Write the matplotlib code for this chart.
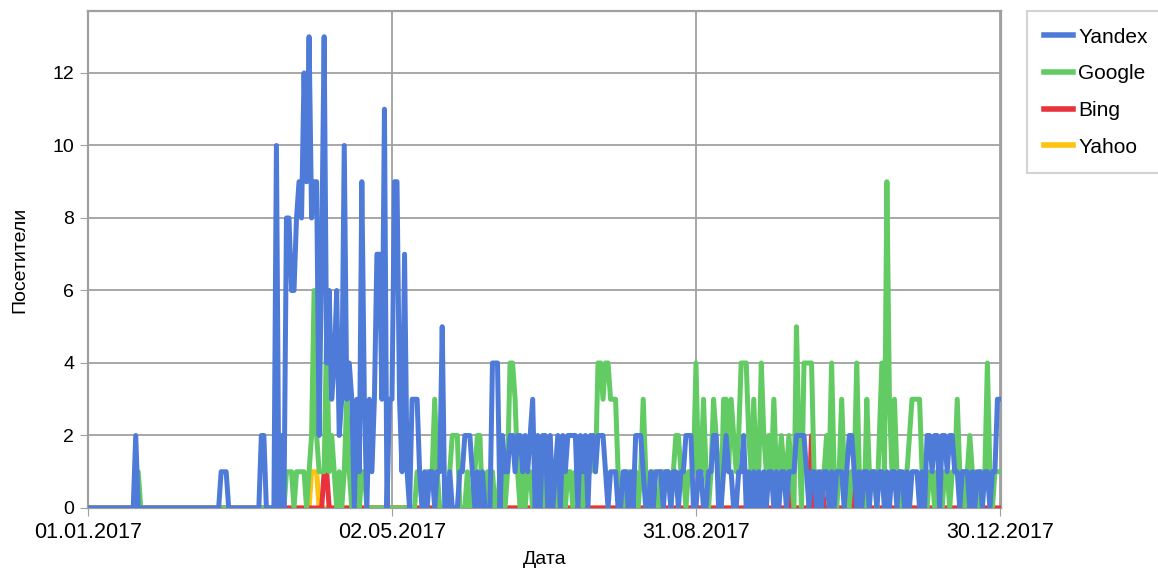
import pandas as pd
import matplotlib.pyplot as plt

# daily visitors, 01.01.2017 .. 31.12.2017 (one value per day, 10 per row)
dates = pd.date_range("2017-01-01", "2017-12-31", freq="D")

yandex = [
    0, 0, 0, 0, 0, 0, 0, 0, 0, 0,
    0, 0, 0, 0, 0, 0, 0, 0, 0, 2,
    0, 0, 0, 0, 0, 0, 0, 0, 0, 0,
    0, 0, 0, 0, 0, 0, 0, 0, 0, 0,
    0, 0, 0, 0, 0, 0, 0, 0, 0, 0,
    0, 0, 0, 1, 1, 1, 0, 0, 0, 0,
    0, 0, 0, 0, 0, 0, 0, 0, 0, 2,
    2, 0, 0, 0, 0, 10, 0, 2, 0, 8,
    8, 6, 6, 8, 9, 8, 12, 9, 13, 8,
    9, 9, 2, 7, 13, 4, 6, 3, 4, 6,
    2, 3, 10, 3, 4, 3, 0, 3, 1, 9,
    3, 0, 3, 1, 3, 7, 7, 3, 11, 0,
    3, 3, 9, 9, 3, 1, 7, 1, 0, 3,
    3, 3, 1, 0, 1, 0, 1, 1, 0, 1,
    1, 5, 0, 0, 1, 0, 0, 0, 1, 1,
    2, 2, 2, 1, 0, 1, 0, 1, 0, 0,
    0, 4, 4, 4, 0, 2, 1, 1, 2, 2,
    1, 2, 2, 1, 2, 1, 2, 3, 0, 2,
    0, 2, 2, 0, 2, 0, 1, 2, 0, 2,
    1, 2, 2, 2, 2, 0, 2, 1, 2, 0,
    2, 2, 1, 2, 2, 2, 1, 0, 1, 1,
    1, 0, 0, 1, 1, 0, 1, 0, 2, 2,
    2, 1, 0, 0, 1, 0, 1, 1, 1, 0,
    1, 1, 0, 1, 1, 0, 1, 1, 2, 2,
    2, 0, 0, 1, 1, 0, 0, 1, 1, 2,
    2, 0, 0, 1, 2, 1, 1, 0, 0, 1,
    1, 2, 0, 1, 0, 1, 0, 1, 0, 1,
    0, 1, 1, 0, 1, 0, 1, 1, 0, 1,
    1, 1, 2, 2, 2, 2, 1, 0, 1, 1,
    0, 1, 0, 1, 1, 0, 1, 0, 1, 1,
    1, 0, 1, 2, 2, 1, 0, 1, 0, 1,
    1, 0, 1, 1, 0, 1, 1, 0, 1, 0,
    1, 1, 0, 1, 1, 0, 1, 0, 1, 1,
    1, 0, 1, 0, 2, 2, 1, 2, 2, 0,
    2, 2, 1, 2, 2, 1, 1, 0, 1, 1,
    1, 0, 1, 0, 1, 1, 0, 1, 1, 0,
    1, 1, 3, 3, 3,
]

google = [
    0, 0, 0, 0, 0, 0, 0, 0, 0, 0,
    0, 0, 0, 0, 0, 0, 0, 0, 0, 0,
    1, 0, 0, 0, 0, 0, 0, 0, 0, 0,
    0, 0, 0, 0, 0, 0, 0, 0, 0, 0,
    0, 0, 0, 0, 0, 0, 0, 0, 0, 0,
    0, 0, 0, 0, 0, 0, 0, 0, 0, 0,
    0, 0, 0, 0, 0, 0, 0, 0, 0, 0,
    0, 0, 0, 0, 0, 0, 1, 0, 0, 1,
    1, 1, 0, 1, 1, 1, 1, 0, 1, 2,
    6, 2, 1, 1, 1, 5, 1, 2, 1, 0,
    1, 0, 1, 3, 1, 0, 1, 1, 0, 1,
    1, 0, 0, 0, 0, 0, 0, 0, 0, 0,
    0, 0, 0, 0, 0, 0, 0, 0, 0, 0,
    0, 1, 1, 0, 0, 1, 1, 1, 3, 1,
    0, 0, 0, 0, 1, 2, 2, 2, 0, 0,
    0, 1, 0, 0, 1, 2, 2, 0, 0, 1,
    0, 1, 0, 0, 1, 1, 0, 1, 4, 4,
    3, 1, 0, 1, 0, 1, 1, 0, 0, 1,
    1, 0, 1, 1, 0, 1, 1, 0, 1, 1,
    0, 1, 1, 0, 1, 1, 1, 0, 1, 1,
    1, 2, 1, 4, 4, 3, 4, 4, 3, 3,
    3, 1, 0, 0, 1, 1, 0, 1, 1, 0,
    1, 3, 1, 0, 1, 1, 0, 0, 1, 1,
    1, 1, 0, 1, 2, 2, 1, 1, 0, 1,
    1, 1, 4, 1, 1, 3, 1, 0, 1, 3,
    2, 1, 0, 3, 3, 1, 3, 2, 1, 2,
    4, 4, 4, 2, 1, 3, 1, 1, 4, 2,
    1, 2, 1, 3, 1, 1, 2, 1, 1, 2,
    1, 0, 5, 2, 0, 4, 4, 4, 4, 1,
    1, 0, 1, 1, 2, 1, 4, 1, 0, 1,
    3, 1, 1, 0, 1, 1, 4, 1, 1, 0,
    3, 1, 1, 1, 0, 2, 4, 1, 9, 3,
    1, 3, 1, 1, 0, 1, 1, 2, 3, 3,
    3, 3, 1, 1, 0, 1, 1, 0, 1, 1,
    0, 1, 1, 0, 1, 1, 3, 1, 1, 0,
    1, 2, 1, 1, 0, 1, 1, 1, 4, 1,
    0, 1, 1, 1, 1,
]

# Bing and Yahoo are zero on all other days
bing = {"2017-04-05": 1, "2017-04-06": 1, "2017-10-07": 1, "2017-10-16": 2,
        "2017-10-20": 1, "2017-10-24": 1, "2017-11-01": 1, "2017-11-07": 1}
yahoo = {"2017-03-31": 1, "2017-04-01": 1, "2017-04-02": 1}

labels = ["Yandex", "Google", "Bing", "Yahoo"]
colors = ["#4f7bd8", "#63cb63", "#e8323c", "#ffc20e"]


def sparse_series(d):
    s = pd.Series(0, index=dates)
    s[pd.to_datetime(list(d.keys()))] = list(d.values())
    return s


df = pd.DataFrame({
    "Yandex": yandex,
    "Google": google,
    "Bing": sparse_series(bing).values,
    "Yahoo": sparse_series(yahoo).values,
}, index=dates)

plt.rcParams["font.family"] = ["Liberation Sans", "DejaVu Sans"]

fig = plt.figure(figsize=(11.58, 5.71), dpi=100)
ax = fig.add_axes([88 / 1158, 1 - 508 / 571, 913 / 1158, 497 / 571])

# Yandex is drawn on top, as in the original
zorders = {"Yandex": 5, "Google": 4, "Bing": 3, "Yahoo": 2}
for name, c in zip(labels, colors):
    ax.plot(df.index, df[name], color=c, lw=3.6, label=name, zorder=zorders[name])

tick_dates = pd.to_datetime(["2017-01-01", "2017-05-02", "2017-08-31", "2017-12-30"])
ax.set_xticks(tick_dates)
ax.set_xticklabels([d.strftime("%d.%m.%Y") for d in tick_dates], fontsize=15.5)
ax.set_xlim(pd.Timestamp("2017-01-01"), pd.Timestamp("2017-12-30 10:00"))
ax.set_ylim(0, 13.71)
ax.set_yticks(range(0, 13, 2))
ax.tick_params(axis="y", labelsize=14, length=6, color="#a0a0a0", pad=4)
ax.tick_params(axis="x", length=6, color="#a0a0a0", pad=4)

ax.grid(True, color="#a0a0a0", lw=1.3)
ax.set_axisbelow(True)
for s in ax.spines.values():
    s.set_color("#a0a0a0")
    s.set_linewidth(1.6)

ax.set_xlabel("Дата", fontsize=14, labelpad=6)
ax.set_ylabel("Посетители", fontsize=14, labelpad=17)

leg = ax.legend(loc="upper left", bbox_to_anchor=(1027 / 1158, 1 - 11 / 571),
                bbox_transform=fig.transFigure, fontsize=15, frameon=True,
                fancybox=False, edgecolor="#c8c8c8", handlelength=1.4,
                handletextpad=0.25, labelspacing=0.85, borderpad=0.8,
                borderaxespad=0)
leg.get_frame().set_linewidth(1.5)
for h in leg.get_lines():
    h.set_linewidth(4)

fig.savefig("out.png", dpi=100)
